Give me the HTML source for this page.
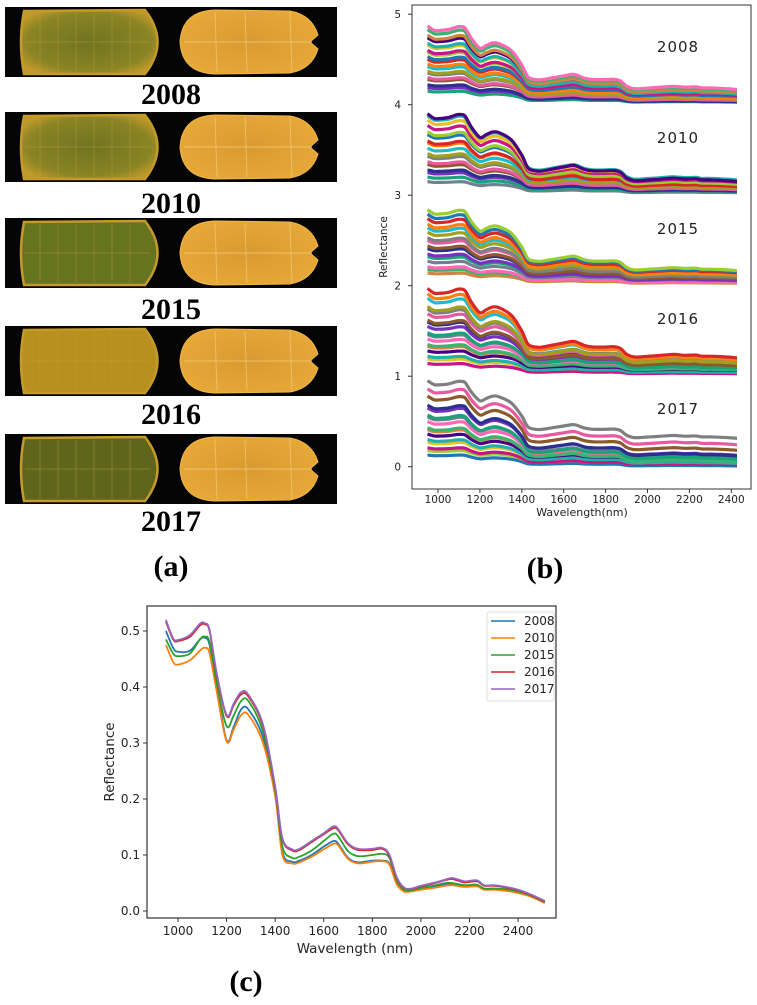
<!DOCTYPE html>
<html><head><meta charset="utf-8"><style>
html,body{margin:0;padding:0;background:#fff;}
svg{display:block;}
.t{font-family:"DejaVu Sans","Liberation Sans",sans-serif;fill:#222;}
.s{font-family:"Liberation Serif",serif;font-weight:bold;fill:#000;}
</style></head><body>
<svg id="fig" width="757" height="1005" viewBox="0 0 757 1005" xmlns="http://www.w3.org/2000/svg">
<defs>
<radialGradient id="gL" cx="50%" cy="50%" r="60%"><stop offset="0" stop-color="#6f7420"/><stop offset="0.75" stop-color="#8a8424"/><stop offset="1" stop-color="#c09a2a"/></radialGradient>
<radialGradient id="gR" cx="50%" cy="50%" r="60%"><stop offset="0" stop-color="#d99a30"/><stop offset="1" stop-color="#e8a93a"/></radialGradient>
<clipPath id="clipB"><rect x="412" y="5" width="325" height="484"/></clipPath>
</defs>
<g id="panelA"></g>
<g id="panelB"></g>
<g id="panelC"></g>
</svg>
<script>
// ---------- data ----------
const wavelengths=[950,980,1000,1050,1090,1110,1130,1160,1200,1230,1260,1290,1350,1400,1430,1470,1500,1550,1600,1640,1660,1700,1740,1800,1840,1870,1900,1930,1960,2000,2050,2100,2130,2180,2230,2260,2300,2350,2400,2450,2510];
const years=["2008","2010","2015","2016","2017"];
const s2008=[0.50,0.47,0.463,0.465,0.485,0.488,0.475,0.40,0.305,0.33,0.36,0.36,0.31,0.21,0.105,0.088,0.09,0.10,0.115,0.125,0.12,0.095,0.087,0.09,0.09,0.085,0.05,0.037,0.036,0.04,0.043,0.047,0.048,0.045,0.046,0.04,0.04,0.038,0.034,0.028,0.016];
const s2010=[0.475,0.445,0.44,0.448,0.465,0.47,0.46,0.39,0.303,0.325,0.35,0.35,0.30,0.205,0.10,0.085,0.087,0.097,0.11,0.12,0.117,0.093,0.085,0.088,0.089,0.083,0.048,0.035,0.035,0.038,0.041,0.045,0.046,0.043,0.044,0.038,0.038,0.036,0.032,0.026,0.014];
const s2015=[0.485,0.46,0.455,0.46,0.485,0.49,0.48,0.405,0.33,0.35,0.375,0.375,0.32,0.215,0.115,0.095,0.097,0.108,0.125,0.138,0.133,0.107,0.098,0.10,0.102,0.095,0.055,0.038,0.037,0.041,0.045,0.05,0.05,0.046,0.047,0.04,0.04,0.039,0.035,0.028,0.016];
const s2016=[0.517,0.485,0.482,0.49,0.51,0.512,0.50,0.42,0.348,0.368,0.387,0.383,0.33,0.22,0.128,0.108,0.109,0.123,0.137,0.148,0.144,0.119,0.109,0.109,0.111,0.099,0.059,0.041,0.039,0.044,0.049,0.055,0.057,0.051,0.053,0.045,0.045,0.042,0.037,0.029,0.017];
const s2017=[0.52,0.487,0.484,0.493,0.513,0.514,0.502,0.423,0.35,0.371,0.391,0.386,0.333,0.222,0.13,0.11,0.111,0.125,0.139,0.151,0.146,0.121,0.111,0.111,0.113,0.101,0.061,0.042,0.040,0.045,0.050,0.056,0.059,0.053,0.055,0.046,0.046,0.043,0.038,0.030,0.018];
const seriesC=[s2008,s2010,s2015,s2016,s2017];
const groupOffsets=[4,3,2,1,0];
const amp2008=[0.13,0.16,0.2,0.24,0.27,0.3,0.33,0.36,0.4,0.43,0.47,0.5,0.53,0.57,0.6,0.64,0.68,0.72,0.75];
const base2008=[0.02,0.03,0.02,0.04,0.03,0.05,0.04,0.06,0.05,0.07,0.06,0.08,0.07,0.09,0.08,0.1,0.09,0.11,0.12];
const amp2010=[0.13,0.17,0.21,0.25,0.29,0.33,0.37,0.41,0.45,0.5,0.54,0.58,0.62,0.67,0.72,0.76,0.8];
const base2010=[0.02,0.03,0.04,0.03,0.05,0.04,0.06,0.05,0.07,0.08,0.06,0.09,0.08,0.1,0.11,0.12,0.1];
const amp2015=[0.12,0.15,0.19,0.23,0.27,0.31,0.35,0.39,0.43,0.47,0.51,0.55,0.6,0.64,0.68,0.72];
const base2015=[0.02,0.03,0.02,0.04,0.05,0.04,0.06,0.05,0.07,0.06,0.08,0.09,0.08,0.1,0.11,0.12];
const amp2016=[0.12,0.15,0.19,0.23,0.27,0.3,0.34,0.38,0.42,0.46,0.5,0.54,0.58,0.62,0.67,0.72,0.78,0.82];
const base2016=[0.02,0.04,0.03,0.05,0.06,0.05,0.07,0.08,0.06,0.09,0.1,0.08,0.11,0.12,0.1,0.14,0.13,0.15];
const amp2017=[0.13,0.16,0.2,0.24,0.28,0.32,0.36,0.4,0.44,0.48,0.52,0.56,0.6,0.64,0.66,0.68];
const base2017=[0.0,0.02,0.01,0.03,0.02,0.04,0.05,0.03,0.06,0.07,0.05,0.09,0.08,0.14,0.2,0.27];
const groupAmps=[amp2008,amp2010,amp2015,amp2016,amp2017];
const groupBases=[base2008,base2010,base2015,base2016,base2017];
const xTicksB=[1000,1200,1400,1600,1800,2000,2200,2400];
const yTicksB=[0,1,2,3,4,5];
const xTicksC=[1000,1200,1400,1600,1800,2000,2200,2400];
const yTicksC=[0,0.1,0.2,0.3,0.4,0.5];
const yTickLabelsC=["0.0","0.1","0.2","0.3","0.4","0.5"];
const colorsC=["#1f77b4","#ff7f0e","#2ca02c","#d62728","#9467bd"];
const paletteB=["#1aa37a","#7b2fbf","#2b2f8f","#8a5a2b","#e85aa0","#7f7f7f","#a0a020","#17becf","#ff7f0e","#d62728","#1f77b4","#9acd32","#c71585","#e6c229","#20b2aa","#4b0082","#cd853f","#3cb371","#ff69b4","#708090"];

const NS="http://www.w3.org/2000/svg";
function mk(parent,tag,attrs){const e=document.createElementNS(NS,tag);for(const k in attrs)e.setAttribute(k,attrs[k]);parent.appendChild(e);return e;}
function txt(parent,x,y,s,cls,extra){const e=mk(parent,"text",Object.assign({x:x,y:y,class:cls},extra||{}));e.textContent=s;return e;}
function smooth(p){let d="M"+p[0][0].toFixed(1)+" "+p[0][1].toFixed(1);for(let i=0;i<p.length-1;i++){const p0=p[i-1]||p[i],p1=p[i],p2=p[i+1],p3=p[i+2]||p2;const c1x=p1[0]+(p2[0]-p0[0])/6,c1y=p1[1]+(p2[1]-p0[1])/6,c2x=p2[0]-(p3[0]-p1[0])/6,c2y=p2[1]-(p3[1]-p1[1])/6;d+=` C${c1x.toFixed(1)} ${c1y.toFixed(1)} ${c2x.toFixed(1)} ${c2y.toFixed(1)} ${p2[0].toFixed(1)} ${p2[1].toFixed(1)}`;}return d;}

// ---------- panel A ----------
const A=document.getElementById("panelA");
const stripY=[7,112,218,326,434];
const labelY=[93,202,308,413,520];
const leftFill=["url(#gL)","url(#gL)","#66731f","#b8901e","#5f661c"];
years.forEach((yr,i)=>{
  const y=stripY[i];
  const g=mk(A,"g",{});
  
  
  mk(g,"rect",{x:5,y:y,width:332,height:70,fill:"#050505"});
  mk(g,"path",{d:`M24 ${y+4} L145 ${y+3} Q170 ${y+35} 145 ${y+67} L24 ${y+67} Q18 ${y+35} 24 ${y+4} Z`,fill:leftFill[i],stroke:"#c49a2a","stroke-width":2.5});
  for(let k=0;k<6;k++){mk(g,"line",{x1:40+k*18,y1:y+6,x2:40+k*18,y2:y+64,stroke:"#c8a040","stroke-width":0.8,opacity:0.45});}
  mk(g,"line",{x1:25,y1:y+35,x2:150,y2:y+35,stroke:"#c8a040","stroke-width":0.8,opacity:0.5});
  mk(g,"path",{d:`M180 ${y+35} Q182 ${y+4} 215 ${y+3} L290 ${y+4} Q312 ${y+8} 318 ${y+28} L310 ${y+35} L318 ${y+42} Q312 ${y+62} 290 ${y+66} L215 ${y+67} Q182 ${y+66} 180 ${y+35} Z`,fill:"url(#gR)",stroke:"#f0b848","stroke-width":1});
  mk(g,"line",{x1:184,y1:y+35,x2:312,y2:y+35,stroke:"#f5d080","stroke-width":1,opacity:0.7});
  [215,245,290].forEach(xx=>mk(g,"line",{x1:xx,y1:y+5,x2:xx+2,y2:y+65,stroke:"#f5d080","stroke-width":1,opacity:0.6}));
  const t=txt(A,171,labelY[i]+11,yr,"s",{"font-size":"30","text-anchor":"middle"});
  
  
});
const la=txt(A,171,576,"(a)","s",{"font-size":"30","text-anchor":"middle"});



// ---------- panel B ----------
const B=document.getElementById("panelB");
const bx=w=>438+(w-1000)*0.2095;
const by=v=>466.7-v*90.5;
const ref=s2016[0];
mk(B,"rect",{x:412,y:5,width:339,height:484,fill:"#fff",stroke:"#333","stroke-width":1});
const linesB=mk(B,"g",{"clip-path":"url(#clipB)"});
let ci=0;
groupOffsets.forEach((off,gi)=>{
  const amps=groupAmps[gi],bases=groupBases[gi];
  const gg=mk(linesB,"g",{});
  
  
  amps.forEach((a,k)=>{
    const pts=wavelengths.map((w,j)=>[bx(w),by(off+bases[k]+a*s2016[j]/ref)]);
    const pl=mk(gg,"path",{d:smooth(pts),fill:"none",stroke:paletteB[(ci++)%paletteB.length],"stroke-width":3.2,"stroke-linejoin":"round"});
    
    
  });
  const yl=txt(B,678,[46,137,228,318,408][gi]+6,years[gi],"t",{"font-size":"15","text-anchor":"middle","letter-spacing":"1"});
  
  
});
xTicksB.forEach(w=>{mk(B,"line",{x1:bx(w),y1:489,x2:bx(w),y2:493,stroke:"#333"});const t=txt(B,bx(w),503,String(w),"t",{"font-size":"10.5","text-anchor":"middle"});});
yTicksB.forEach(v=>{mk(B,"line",{x1:408,y1:by(v),x2:412,y2:by(v),stroke:"#333"});const t=txt(B,401,by(v)+4,String(v),"t",{"font-size":"10.5","text-anchor":"end"});});
const bxl=txt(B,582,516,"Wavelength(nm)","t",{"font-size":"11","text-anchor":"middle"});


const byl=txt(B,0,0,"Reflectance","t",{"font-size":"10.5","text-anchor":"middle",transform:"translate(387,247) rotate(-90)"});


const lb=txt(B,545,578,"(b)","s",{"font-size":"30","text-anchor":"middle"});



// ---------- panel C ----------
const C=document.getElementById("panelC");
const cx=w=>178+(w-1000)*0.2429;
const cy=v=>911-v*560;
mk(C,"rect",{x:147,y:606,width:409,height:312,fill:"#fff",stroke:"#333","stroke-width":1.2});
seriesC.forEach((s,i)=>{
  const pts=wavelengths.map((w,j)=>[cx(w),cy(s[j])]);
  const pl=mk(C,"path",{d:smooth(pts),fill:"none",stroke:colorsC[i],"stroke-width":1.8,"stroke-linejoin":"round"});
  
  
});
xTicksC.forEach(w=>{mk(C,"line",{x1:cx(w),y1:918,x2:cx(w),y2:922,stroke:"#333"});const t=txt(C,cx(w),935,String(w),"t",{"font-size":"12","text-anchor":"middle"});});
yTicksC.forEach((v,i)=>{mk(C,"line",{x1:143,y1:cy(v),x2:147,y2:cy(v),stroke:"#333"});const t=txt(C,140,cy(v)+4,yTickLabelsC[i],"t",{"font-size":"12","text-anchor":"end"});});
const cxl=txt(C,355,953,"Wavelength (nm)","t",{"font-size":"13.5","text-anchor":"middle"});


const cyl=txt(C,0,0,"Reflectance","t",{"font-size":"13.5","text-anchor":"middle",transform:"translate(114,762) rotate(-90)"});


const leg=mk(C,"g",{});


mk(leg,"rect",{x:487,y:612,width:67,height:89,fill:"#fff",stroke:"#ddd",rx:2});
years.forEach((yr,i)=>{
  const yy=621+i*17;
  const e=mk(leg,"g",{});
  
  
  mk(e,"line",{x1:491,y1:yy,x2:515,y2:yy,stroke:colorsC[i],"stroke-width":1.6});
  txt(e,524,yy+4,yr,"t",{"font-size":"12"});
});
const lc=txt(C,246,991,"(c)","s",{"font-size":"30","text-anchor":"middle"});


</script>
</body></html>
